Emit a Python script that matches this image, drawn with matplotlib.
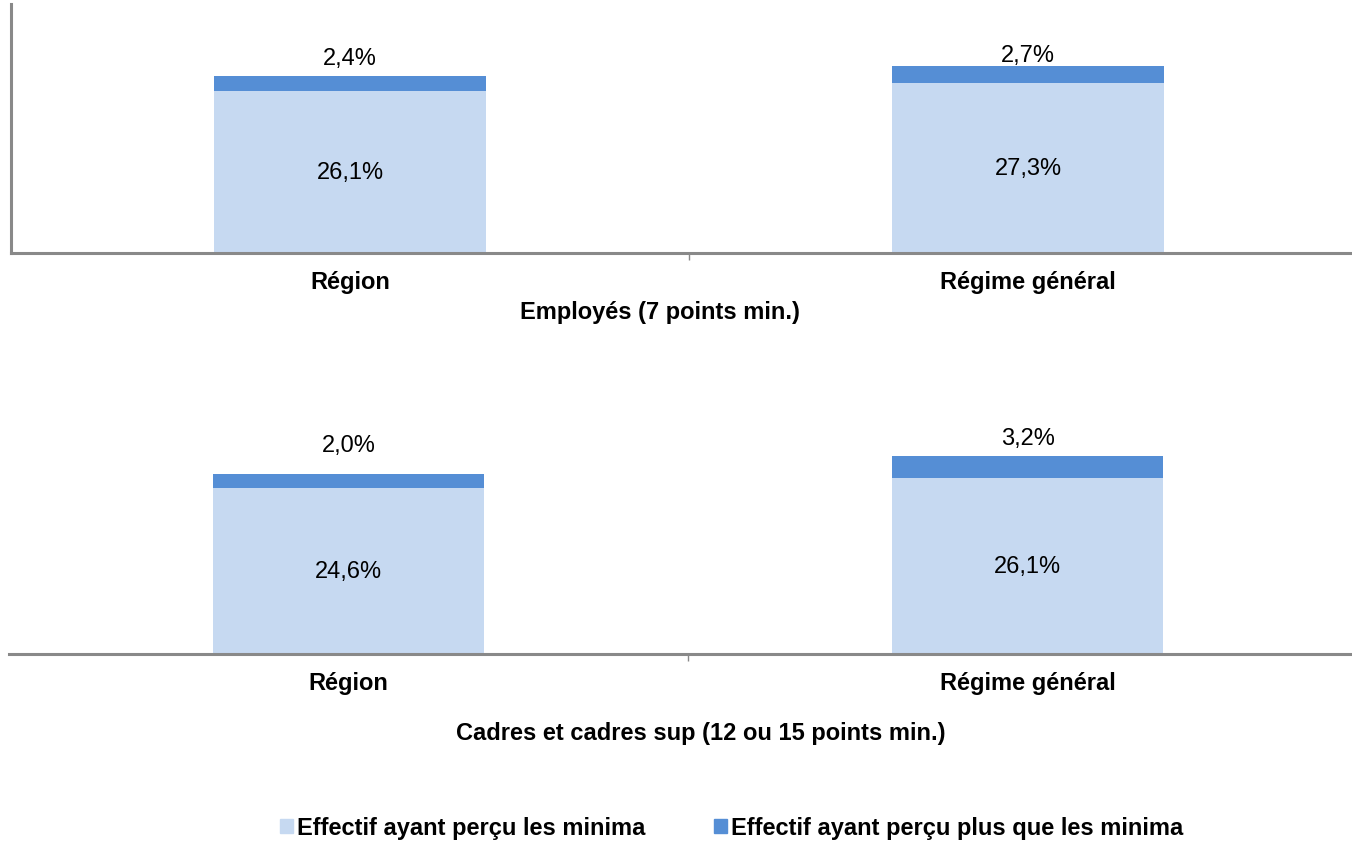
import matplotlib
matplotlib.use('Agg')
import matplotlib.pyplot as plt
import matplotlib.patheffects as pe
import numpy as np
from matplotlib.patches import Patch

plt.rcParams['font.family'] = ['Liberation Sans', 'DejaVu Sans']

categories = ['Région', 'Régime général']
emp_minima = [26.1, 27.3]
emp_plus = [2.4, 2.7]
cad_minima = [24.6, 26.1]
cad_plus = [2.0, 3.2]

panel_titles = ['Employés (7 points min.)', 'Cadres et cadres sup (12 ou 15 points min.)']
legend_labels = ['Effectif ayant perçu les minima', 'Effectif ayant perçu plus que les minima']

light = '#c6d9f1'
dark = '#558ed5'
spine = '#898989'

fig = plt.figure(figsize=(13.52, 8.45), dpi=100)
ax1 = fig.add_axes([11 / 1352, 1 - 254 / 845, 1 - 11 / 1352, 249 / 845])
ax2 = fig.add_axes([9 / 1352, 1 - 655 / 845, 1 - 9 / 1352, 270 / 845])

shadow = [pe.SimplePatchShadow(offset=(1.5, -2), shadow_rgbFace='#999999', alpha=0.35),
          pe.SimplePatchShadow(offset=(3, -4.5), shadow_rgbFace='#bbbbbb', alpha=0.2),
          pe.Normal()]

x = np.arange(len(categories))
# layout: (axes, lower, upper, title, labelpad, title x in axes frac, label offsets in pt, left spine)
panels = [(ax1, emp_minima, emp_plus, panel_titles[0], 5, 649 / 1341, [13, 8], True),
          (ax2, cad_minima, cad_plus, panel_titles[1], 20, 692 / 1343, [21.5, 13], False)]

for ax, low, high, title, lpad, tx, offs, leftspine in panels:
    ax.bar(x, low, width=0.40, color=light)
    ax.bar(x, high, bottom=low, width=0.40, color=dark)
    for xi, lo, hi, off in zip(x, low, high, offs):
        ax.text(xi, lo / 2, f'{lo:.1f}%'.replace('.', ','), ha='center', va='center', fontsize=17)
        ax.annotate(f'{hi:.1f}%'.replace('.', ','), (xi, lo + hi), xytext=(0, off),
                    textcoords='offset points', ha='center', va='center', fontsize=17)
    ax.set_xlim(-0.5, -0.5 + 1341 / 678)
    ax.set_ylim(0, 40)
    ax.set_yticks([])
    ax.set_xticks(x)
    ax.set_xticklabels(categories, fontsize=17, fontweight='bold')
    ax.tick_params(axis='x', length=0, pad=12)
    ax.set_xticks([0.5], minor=True)
    ax.tick_params(axis='x', which='minor', length=5, width=1, color=spine, direction='out')
    ax.set_xlabel(title, fontsize=17, fontweight='bold', labelpad=lpad)
    ax.xaxis.label.set_x(tx)
    for s in ['top', 'right']:
        ax.spines[s].set_visible(False)
    ax.spines['bottom'].set_color(spine)
    ax.spines['bottom'].set_linewidth(2.2)
    ax.spines['bottom'].set_path_effects(shadow)
    if leftspine:
        ax.spines['left'].set_color(spine)
        ax.spines['left'].set_linewidth(2.2)
        ax.spines['left'].set_path_effects(shadow)
    else:
        ax.spines['left'].set_visible(False)
    ax.patch.set_alpha(0)

handles = [Patch(color=light), Patch(color=dark)]
fig.legend(handles, legend_labels, loc='center', bbox_to_anchor=(732 / 1352, 1 - 829 / 845),
           ncol=2, frameon=False, prop={'weight': 'bold', 'size': 17},
           handlelength=0.52, handleheight=0.52, handletextpad=0.2, columnspacing=2.9)

fig.savefig('out.png', dpi=100)
